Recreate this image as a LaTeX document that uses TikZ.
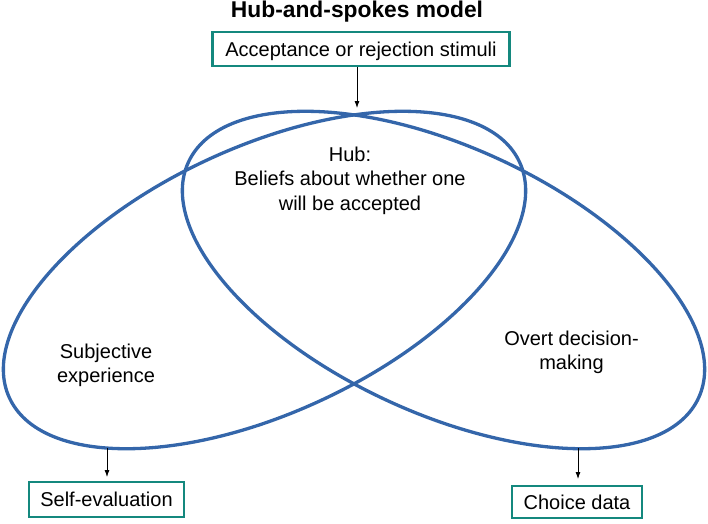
\documentclass[tikz,border=0pt]{standalone}
\usepackage{fontspec}
\setmainfont{Liberation Sans}
\usetikzlibrary{arrows.meta}
\definecolor{ellblue}{RGB}{52,102,170}
\definecolor{boxteal}{RGB}{20,136,126}
\begin{document}
\begin{tikzpicture}[x=1pt,y=-1pt,
  every node/.style={font=\fontsize{20}{24.5}\selectfont},
  tealbox/.style={draw=boxteal,line width=2.8pt,inner xsep=0pt,inner ysep=0pt,
    text height=14.5pt,text depth=0pt},
  spoke/.style={draw=ellblue,line width=3.3pt},
  feed/.style={draw=black,line width=0.8pt,-{Latex[length=7pt,width=5pt]}}
]
\useasboundingbox (0,0) rectangle (708,523);
% title
\node[anchor=base,font=\fontsize{22.8}{27}\selectfont\bfseries] (title) at (357,17.5) {Hub-and-spokes model};
% boxes
\node[tealbox,minimum width=297pt,minimum height=34pt] (stim) at (361,49) {Acceptance or rejection stimuli};
\node[tealbox,minimum width=155pt,minimum height=35pt] (self) at (106.5,499.5) {Self-evaluation};
\node[tealbox,minimum width=130pt,minimum height=32pt] (choice) at (577,502) {Choice data};
% ellipses
\draw[spoke,rotate around={24.8:(264.5,280)}] (264.5,280) ellipse [x radius=281pt,y radius=133pt];
\draw[spoke,rotate around={-24.8:(443.5,280)}] (443.5,280) ellipse [x radius=281pt,y radius=133pt];
% texts
\node[align=center] (hub) at (350,180.5) {Hub:\\Beliefs about whether one\\will be accepted};
\node[align=center] (subj) at (106,365.3) {Subjective\\experience};
\node[align=center] (overt) at (571.5,352.3) {Overt decision-\\making};
% arrows
\coordinate (toptip) at (357,108);
\coordinate (lstart) at (107,448);
\coordinate (lend) at (107,477);
\coordinate (rstart) at (578,448);
\coordinate (rend) at (578,479);
\draw[feed] (toptip |- stim.south) -- (toptip);
\draw[feed] (lstart) -- (lend);
\draw[feed] (rstart) -- (rend);
\end{tikzpicture}
\end{document}
